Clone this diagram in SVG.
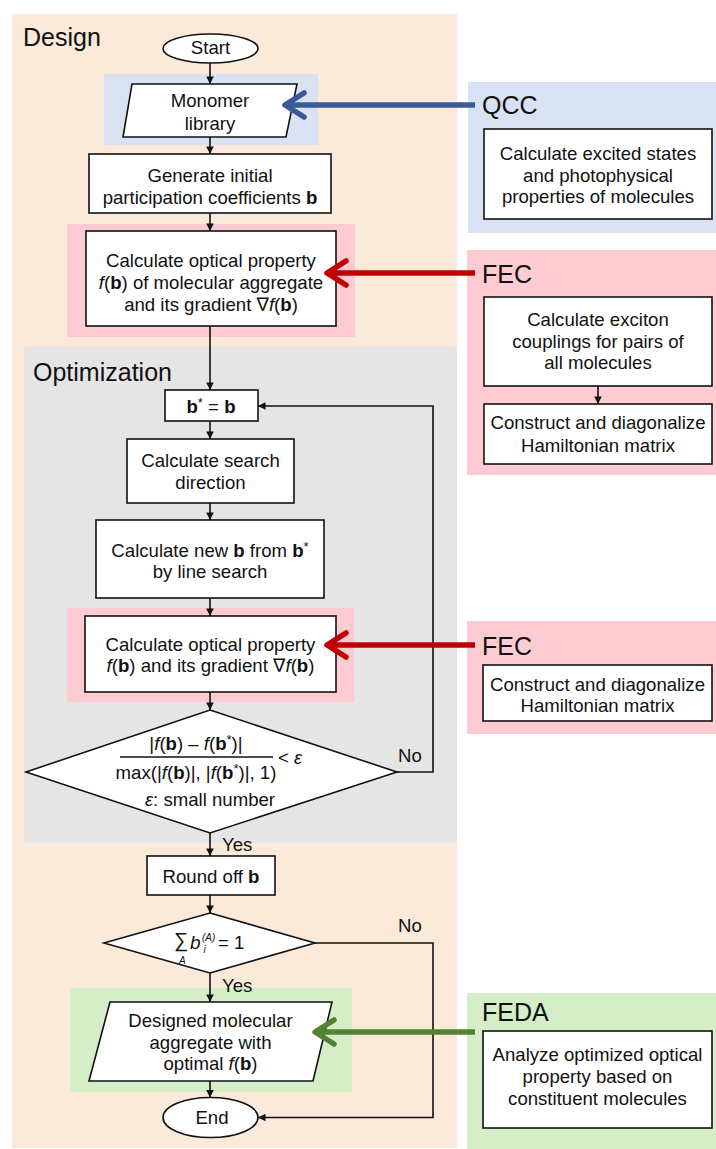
<svg xmlns="http://www.w3.org/2000/svg" width="716" height="1149" viewBox="0 0 716 1149">
  <defs>
    <style>
      text { font-family: "Liberation Sans", "DejaVu Sans", sans-serif; fill: #111; }
      .t { font-size: 18.6px; text-anchor: middle; }
      .title { font-size: 25px; }
      .lbl { font-size: 18.6px; }
      .box { fill: #fff; stroke: #111; stroke-width: 1.6; }
      .flow { fill: none; stroke: #111; stroke-width: 1.6; }
      .b { font-weight: bold; }
      .i { font-style: italic; }
      .sup { font-size: 13px; }
    </style>
    <marker id="tri" markerUnits="userSpaceOnUse" markerWidth="10" markerHeight="10" viewBox="-8 -5 10 10" refX="0" refY="0" orient="auto" overflow="visible">
      <path d="M0,0 L-7.5,-3.8 L-7.5,3.8 Z" fill="#111"/>
    </marker>
    <marker id="chevBlue" markerUnits="userSpaceOnUse" orient="auto" overflow="visible" refX="0" refY="0">
      <path d="M-19,-12 L0,0 L-19,12" fill="none" stroke="#3b5a9a" stroke-width="5.5" stroke-linecap="round" stroke-linejoin="round"/>
    </marker>
    <marker id="chevRed" markerUnits="userSpaceOnUse" orient="auto" overflow="visible" refX="0" refY="0">
      <path d="M-19,-12 L0,0 L-19,12" fill="none" stroke="#c00000" stroke-width="5.5" stroke-linecap="round" stroke-linejoin="round"/>
    </marker>
    <marker id="chevGreen" markerUnits="userSpaceOnUse" orient="auto" overflow="visible" refX="0" refY="0">
      <path d="M-19,-12 L0,0 L-19,12" fill="none" stroke="#548235" stroke-width="5.5" stroke-linecap="round" stroke-linejoin="round"/>
    </marker>
  </defs>

  <rect width="716" height="1149" fill="#fff"/>

  <!-- stage panels -->
  <g id="design-panel">
    <rect x="12" y="14" width="445" height="1134" fill="#fbe9da"/>
    <text class="title" x="23" y="46">Design</text>
  </g>
  <g id="optimization-panel">
    <rect x="24" y="347" width="433" height="496" fill="#e5e5e5"/>
    <text class="title" x="33" y="381">Optimization</text>
  </g>

  <!-- highlight bands behind the steps that use external modules -->
  <rect x="104" y="74" width="214" height="71" fill="#d9e2f3"/>
  <rect x="67" y="224" width="288" height="113" fill="#fecbd3"/>
  <rect x="67" y="608" width="287" height="94" fill="#fecbd3"/>
  <rect x="70" y="988" width="282" height="104" fill="#d5eec8"/>

  <!-- flowchart nodes -->
  <g id="start">
    <ellipse cx="210.5" cy="48.5" rx="47.5" ry="14.5" class="box"/>
    <text class="t" x="210.5" y="54">Start</text>
  </g>
  <g id="monomer-library">
    <polygon points="132,84 297,84 286,137 123,137" class="box"/>
    <text class="t" x="210" y="107">Monomer</text>
    <text class="t" x="210" y="130">library</text>
  </g>
  <g id="generate-b">
    <rect x="89" y="154" width="242" height="59" class="box"/>
    <text class="t" x="210" y="182">Generate initial</text>
    <text class="t" x="210" y="204">participation coefficients <tspan class="b">b</tspan></text>
  </g>
  <g id="calc-optical-initial">
    <rect x="86" y="231" width="250" height="95" class="box"/>
    <text class="t" x="211" y="267">Calculate optical property</text>
    <text class="t" x="211" y="289"><tspan class="i">f</tspan>(<tspan class="b">b</tspan>) of molecular aggregate</text>
    <text class="t" x="211" y="311">and its gradient ∇<tspan class="i">f</tspan>(<tspan class="b">b</tspan>)</text>
  </g>
  <g id="store-b">
    <rect x="165" y="390" width="93" height="31" class="box"/>
    <text class="t" x="211" y="413"><tspan class="b">b</tspan><tspan class="sup" dy="-6">*</tspan><tspan dy="6"> = </tspan><tspan class="b">b</tspan></text>
  </g>
  <g id="search-direction">
    <rect x="127" y="439" width="167" height="64" class="box"/>
    <text class="t" x="210.5" y="467">Calculate search</text>
    <text class="t" x="210.5" y="489">direction</text>
  </g>
  <g id="line-search">
    <rect x="96" y="520" width="228" height="78" class="box"/>
    <text class="t" x="210" y="557">Calculate new <tspan class="b">b</tspan> from <tspan class="b">b</tspan><tspan class="sup" dy="-6">*</tspan></text>
    <text class="t" x="210" y="578">by line search</text>
  </g>
  <g id="calc-optical-loop">
    <rect x="85" y="616" width="251" height="76" class="box"/>
    <text class="t" x="210.5" y="651">Calculate optical property</text>
    <text class="t" x="210.5" y="672"><tspan class="i">f</tspan>(<tspan class="b">b</tspan>) and its gradient ∇<tspan class="i">f</tspan>(<tspan class="b">b</tspan>)</text>
  </g>
  <g id="convergence-check">
    <polygon points="210,710 397,772 210,833 26,772" class="box"/>
    <text class="t" x="196" y="750">|<tspan class="i">f</tspan>(<tspan class="b">b</tspan>) – <tspan class="i">f</tspan>(<tspan class="b">b</tspan><tspan class="sup" dy="-6">*</tspan><tspan dy="6">)|</tspan></text>
    <line x1="120" y1="757" x2="273" y2="757" stroke="#111" stroke-width="1.4"/>
    <text class="t" x="196" y="779">max(|<tspan class="i">f</tspan>(<tspan class="b">b</tspan>)|, |<tspan class="i">f</tspan>(<tspan class="b">b</tspan><tspan class="sup" dy="-6">*</tspan><tspan dy="6">)|, 1)</tspan></text>
    <text class="lbl" x="278" y="764">&lt; <tspan class="i">ε</tspan></text>
    <text class="t" x="210" y="806"><tspan class="i">ε</tspan>: small number</text>
  </g>
  <g id="round-off">
    <rect x="147" y="856" width="128" height="39" class="box"/>
    <text class="t" x="211" y="883">Round off <tspan class="b">b</tspan></text>
  </g>
  <g id="sum-check">
    <polygon points="210,913 315,943 210,973 104,943" class="box"/>
    <text x="174" y="947" font-size="20">∑</text>
    <text x="179" y="964" font-size="10" class="i">A</text>
    <text x="190" y="949" font-size="19" class="i">b</text>
    <text x="202" y="941" font-size="10" class="i">(A)</text>
    <text x="203.5" y="953" font-size="10" class="i">i</text>
    <text x="218" y="949" font-size="18.6">= 1</text>
  </g>
  <g id="designed-aggregate">
    <polygon points="110,1002 332,1002 313,1081 89,1081" class="box"/>
    <text class="t" x="210.5" y="1027">Designed molecular</text>
    <text class="t" x="210.5" y="1049">aggregate with</text>
    <text class="t" x="210.5" y="1070">optimal <tspan class="i">f</tspan>(<tspan class="b">b</tspan>)</text>
  </g>
  <g id="end">
    <ellipse cx="210.5" cy="1117.5" rx="47.5" ry="20" class="box"/>
    <text class="t" x="212" y="1124">End</text>
  </g>

  <!-- external modules -->
  <g id="qcc">
    <rect x="468" y="82" width="248" height="151" fill="#d9e2f3"/>
    <text class="title" x="482" y="114">QCC</text>
    <rect x="484" y="129" width="228" height="90" class="box"/>
    <text class="t" x="598" y="160">Calculate excited states</text>
    <text class="t" x="598" y="182">and photophysical</text>
    <text class="t" x="598" y="203">properties of molecules</text>
  </g>
  <g id="fec-full">
    <rect x="467" y="250" width="249" height="225" fill="#fecbd3"/>
    <text class="title" x="482" y="283">FEC</text>
    <rect x="484" y="297" width="228" height="89" class="box"/>
    <text class="t" x="598" y="326">Calculate exciton</text>
    <text class="t" x="598" y="348">couplings for pairs of</text>
    <text class="t" x="598" y="369">all molecules</text>
    <rect x="484" y="404" width="228" height="60" class="box"/>
    <text class="t" x="598" y="429">Construct and diagonalize</text>
    <text class="t" x="598" y="452">Hamiltonian matrix</text>
  </g>
  <g id="fec-diag">
    <rect x="467" y="621" width="249" height="113" fill="#fecbd3"/>
    <text class="title" x="482" y="655">FEC</text>
    <rect x="483" y="665" width="229" height="56" class="box"/>
    <text class="t" x="597.5" y="691">Construct and diagonalize</text>
    <text class="t" x="597.5" y="712">Hamiltonian matrix</text>
  </g>
  <g id="feda">
    <rect x="467" y="993" width="249" height="156" fill="#d5eec8"/>
    <text class="title" x="482" y="1021">FEDA</text>
    <rect x="483" y="1031" width="229" height="97" class="box"/>
    <text class="t" x="597.5" y="1061">Analyze optimized optical</text>
    <text class="t" x="597.5" y="1083">property based on</text>
    <text class="t" x="597.5" y="1105">constituent molecules</text>
  </g>

  <!-- connectors -->
  <g id="connectors">
    <line x1="210" y1="63" x2="210" y2="84" class="flow" marker-end="url(#tri)"/>
    <line x1="210" y1="137" x2="210" y2="154" class="flow" marker-end="url(#tri)"/>
    <line x1="210" y1="213" x2="210" y2="231" class="flow" marker-end="url(#tri)"/>
    <line x1="210" y1="326" x2="210" y2="390" class="flow" marker-end="url(#tri)"/>
    <line x1="210" y1="421" x2="210" y2="439" class="flow" marker-end="url(#tri)"/>
    <line x1="210" y1="503" x2="210" y2="520" class="flow" marker-end="url(#tri)"/>
    <line x1="210" y1="598" x2="210" y2="616" class="flow" marker-end="url(#tri)"/>
    <line x1="210" y1="692" x2="210" y2="710" class="flow" marker-end="url(#tri)"/>
    <line x1="210" y1="833" x2="210" y2="856" class="flow" marker-end="url(#tri)"/>
    <line x1="210" y1="895" x2="210" y2="913" class="flow" marker-end="url(#tri)"/>
    <line x1="210" y1="973" x2="210" y2="1002" class="flow" marker-end="url(#tri)"/>
    <line x1="210" y1="1081" x2="210" y2="1097.5" class="flow" marker-end="url(#tri)"/>
    <polyline points="397,772 433,772 433,406 258,406" class="flow" marker-end="url(#tri)"/>
    <polyline points="315,943 433,943 433,1117.5 258,1117.5" class="flow" marker-end="url(#tri)"/>
    <line x1="598" y1="386" x2="598" y2="404" class="flow" marker-end="url(#tri)"/>

    <text class="lbl" x="398" y="762">No</text>
    <text class="lbl" x="222" y="851">Yes</text>
    <text class="lbl" x="398" y="932">No</text>
    <text class="lbl" x="222" y="992">Yes</text>

    <line x1="475" y1="105" x2="285" y2="105" stroke="#3b5a9a" stroke-width="5.5" marker-end="url(#chevBlue)"/>
    <line x1="475" y1="273" x2="327" y2="273" stroke="#c00000" stroke-width="5.5" marker-end="url(#chevRed)"/>
    <line x1="475" y1="645" x2="327" y2="645" stroke="#c00000" stroke-width="5.5" marker-end="url(#chevRed)"/>
    <line x1="475" y1="1032" x2="315" y2="1032" stroke="#548235" stroke-width="5.5" marker-end="url(#chevGreen)"/>
  </g>
</svg>
